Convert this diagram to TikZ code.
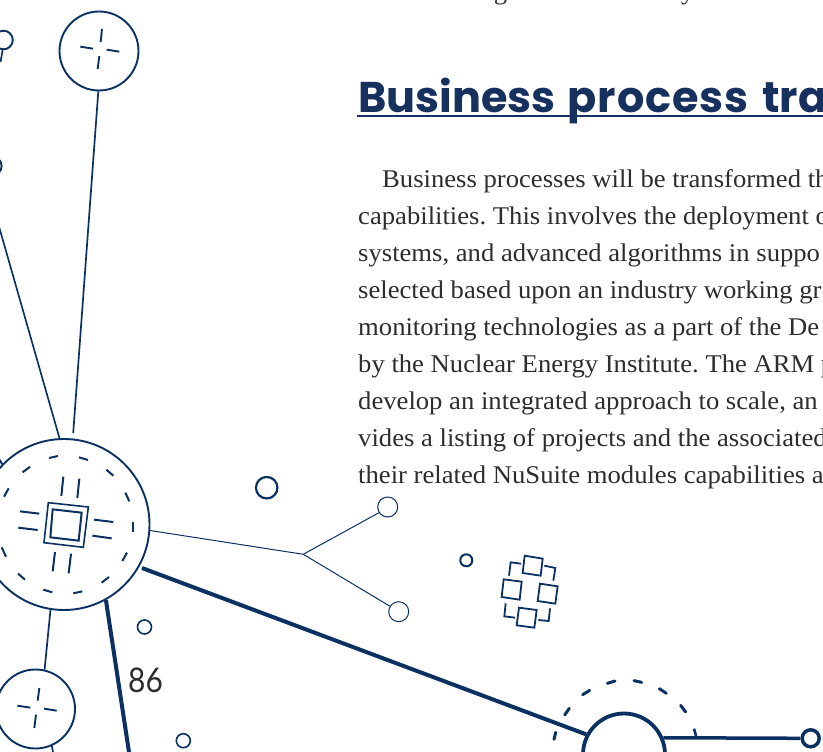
\documentclass[tikz,border=0pt]{standalone}
\usepackage{fontspec}
\setmainfont{Liberation Serif}
\newfontfamily\bodyfont[FakeStretch=1.045]{Liberation Serif}
\newfontfamily\headfont{Poppins}
\newfontfamily\numfont[FakeStretch=0.88]{Lato}
\definecolor{navy}{HTML}{0A3161}
\definecolor{headblue}{HTML}{17315F}
\definecolor{inkgrey}{HTML}{2E2C2D}
\tikzset{
  ring/.style={circle,draw=navy,inner sep=0pt,line width=#1},
  ln/.style={draw=navy,line width=#1},
  bodytext/.style={anchor=base west,inner sep=0pt,text=inkgrey,font=\fontsize{25.5}{25.5}\selectfont\bodyfont\frenchspacing},
  headtext/.style={anchor=base west,inner sep=0pt,text=headblue,font=\fontsize{43}{43}\selectfont\headfont\bfseries},
  third/.style={x=0.33333pt,y=-0.33333pt}
}
\begin{document}
\begin{tikzpicture}[x=1pt,y=-1pt]
\useasboundingbox (0,0) rectangle (823,752);
\clip (0,0) rectangle (823,752);

% text
\node[bodytext] (t0) at (372,0) {NuSuite targeted functionality.};
\node[headtext] (head) at (358,112.7) {Business\hspace{3pt} {\addfontfeature{LetterSpace=2}process}\hspace{5pt} tra};
\draw[draw=headblue,line width=2] (357,116) -- (823,116);
\node[bodytext] (t1) at (382,187) {Business processes will be transformed th};
\node[bodytext] (t2) at (358,224) {capabilities. This involves the deployment o};
\node[bodytext] (t3) at (358,261) {systems, and advanced algorithms in suppo};
\node[bodytext] (t4) at (358,298) {selected based upon an industry working gr};
\node[bodytext] (t5) at (358,335) {monitoring technologies as a part of the De};
\node[bodytext] (t6) at (358,372) {by the Nuclear Energy Institute. The ARM p};
\node[bodytext] (t7) at (358,409) {develop an integrated approach to scale, an};
\node[bodytext] (t8) at (358,446) {vides a listing of projects and the associated};
\node[bodytext] (t9) at (358,483) {their related NuSuite modules capabilities a};
\node[anchor=base west,inner sep=0pt,text=inkgrey,font=\fontsize{34}{34}\selectfont\numfont] (pg) at (128,692) {86};

% main circles
\node[ring=1.9,minimum size=171pt] (hub) at (64,524.5) {};
\node[ring=1.9,minimum size=79pt] (top) at (99,51) {};
\node[ring=1.9,minimum size=79pt] (low) at (35.5,709) {};
\node[ring=3.8,minimum size=82pt] (gear) at (624,754.5) {};
\node[ring=3.5,minimum size=17pt] (dot) at (810.7,738.3) {};

% small circles
\node[ring=1.9,minimum size=18.6pt] (edgeA) at (3.5,40) {};
\node[ring=1.9,minimum size=19.2pt] (edgeB) at (-8,166) {};
\node[ring=2.2,minimum size=21.5pt] (s1) at (266.7,487.7) {};
\node[ring=1,minimum size=20pt] (s2) at (387.7,507) {};
\node[ring=1,minimum size=20pt] (s3) at (398.7,611.7) {};
\node[ring=1.6,minimum size=14pt] (s4) at (144.5,627) {};
\node[ring=1.6,minimum size=14pt] (s5) at (183.3,740.7) {};
\node[ring=2,minimum size=12pt] (s6) at (466.3,560.3) {};

% connectors
\coordinate (hubgapA) at (73.2,433);
\coordinate (hubgapB) at (142,568);
\coordinate (offL) at (-8,202);
\coordinate (offA) at (0.5,62);
\coordinate (offT) at (129.6,756);
\coordinate (offD) at (53.6,756);
\coordinate (fork) at (303.3,554.3);
\draw[ln=1.7] (top.-91) -- (hubgapA);
\draw[ln=1.7] (hub.93) -- (offL);
\draw[ln=1.7] (edgeA.-95) -- (offA);
\draw[ln=1.7] (hub.-99.5) -- (low.77.5);
\draw[ln=1.7] (low.-66) -- (offD);
\draw[ln=4] (hub.-61) -- (offT);
\draw[ln=4] (hubgapB) -- (gear.152);
\draw[ln=3.5] (gear.23.6) -- (dot.west);
\draw[ln=1] (hub.-4) -- (fork);
\draw[ln=1] (fork) -- (s2.-147);
\draw[ln=1] (fork) -- (s3.148);

% hub inner drawing
\begin{scope}[shift={(0,430)},third]
  \draw[ln=1.6] (145,218) -- (265,231) -- (250,352) -- (132,338) -- cycle;
  \draw[ln=2] (158,238) -- (245,248) -- (236,332) -- (151,322) -- cycle;
  \foreach \a/\b/\c/\d in {190/140/184/198,238/146/232/204,60/244/118/251,55/293/113/300,282/269/340/276,277/317/335/325,165/366/158/424,213/371/206/430,
    147/84/174/78,237/82/264/90,319/119/340/137,376/188/388/214,398/277/398/306,381/368/367/393,327/441/305/458,247/484/220/490,157/487/130/479,75/449/54/431,18/380/5/352,12/200/26/175,68/127/90/110,-2/88/7/103}
    \draw[ln=2] (\a,\b) -- (\c,\d);
\end{scope}

% crosses
\begin{scope}[third]
  \foreach \a/\b/\c/\d in {306/87/302/126,241/140/279/146,320/149/358/155,298/168/293/207}
    \draw[ln=1.9] (\a,\b) -- (\c,\d);
\end{scope}
\begin{scope}[shift={(0,600)},third]
  \foreach \a/\b/\c/\d in {118/264/113/302,52/317/91/323,132/326/170/332,108/344/103/384}
    \draw[ln=1.9] (\a,\b) -- (\c,\d);
\end{scope}

% cluster icon
\begin{scope}[shift={(450,540)},third]
  \draw[ln=1.8] (224,47) -- (278,56) -- (272,107) -- (218,99) -- cycle;
  \draw[ln=1.8] (161,118) -- (215,125) -- (209,179) -- (155,171) -- cycle;
  \draw[ln=1.8] (270,131) -- (323,139) -- (316,191) -- (263,183) -- cycle;
  \draw[ln=1.8] (207,203) -- (260,210) -- (253,263) -- (200,256) -- cycle;
  \draw[ln=1.8] (177,107) -- (182,67) -- (213,71);
  \draw[ln=1.8] (283,77) -- (316,84) -- (310,122);
  \draw[ln=1.8] (167,190) -- (163,229) -- (195,233);
  \draw[ln=1.8] (300,205) -- (296,243) -- (265,240);
\end{scope}

% dashed arc over the gear circle
\begin{scope}[shift={(540,660)},third]
  \foreach \a/\b/\c/\d in {42/238/47/217,74/165/88/145,128/104/149/91,202/70/225/63,282/62/305/67,358/86/379/100,422/136/437/156}
    \draw[ln=3,line cap=round] (\a,\b) -- (\c,\d);
  \draw[ln=2.6] (462,206) -- (470,235);
\end{scope}
\end{tikzpicture}
\end{document}
